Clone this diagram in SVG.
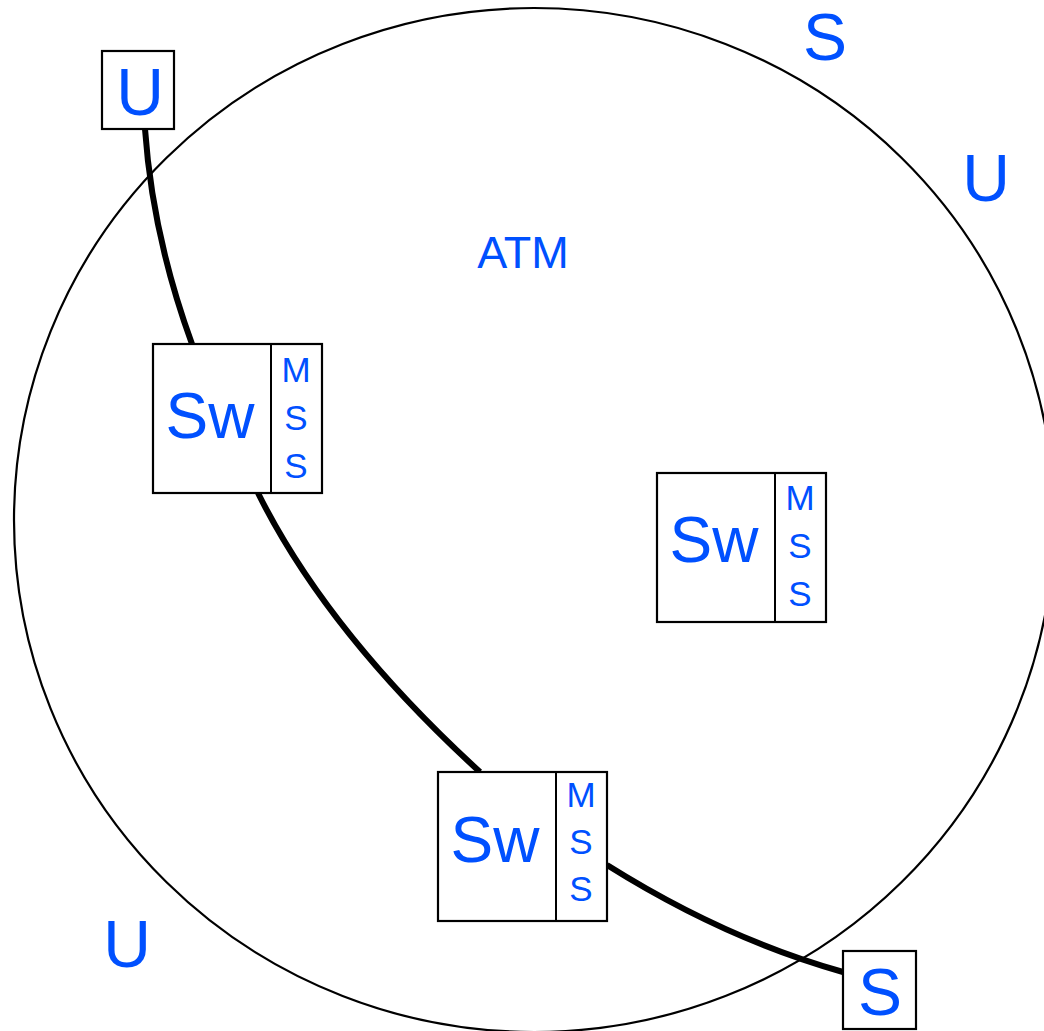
<svg xmlns="http://www.w3.org/2000/svg" width="1044" height="1031" viewBox="0 0 1044 1031">
  <style>
    .box { fill: #ffffff; stroke: #000000; stroke-width: 2.2; }
    .div { stroke: #000000; stroke-width: 2; }
    .lbl { font-family: "Liberation Sans", Arial, sans-serif; fill: #0050ff; text-anchor: middle; }
    .big { font-size: 66px; }
    .sw { font-size: 64px; }
    .mss { font-size: 35px; }
    .atm { font-size: 45px; }
    .link { fill: none; stroke: #000000; stroke-width: 6; }
  </style>

  <rect width="1044" height="1031" fill="#ffffff"/>

  <!-- ATM network boundary -->
  <g id="atm-network">
    <ellipse cx="534" cy="520" rx="520" ry="512" fill="none" stroke="#000000" stroke-width="2.2"/>
    <text class="lbl atm" x="523" y="268">ATM</text>
  </g>

  <!-- connection path -->
  <g id="connectors">
    <path class="link" d="M145,129 C150,200 165,270 192,344"/>
    <path class="link" d="M258,493 Q327,632 480,772"/>
    <path class="link" d="M607,865 Q725,939 843,972"/>
  </g>

  <!-- end systems -->
  <g id="user-top">
    <rect class="box" x="102" y="51" width="72" height="78"/>
    <text class="lbl big" x="140" y="115">U</text>
  </g>
  <g id="server-top">
    <text class="lbl big" x="825" y="60">S</text>
  </g>
  <g id="user-right">
    <text class="lbl big" x="986" y="201">U</text>
  </g>
  <g id="user-bottom">
    <text class="lbl big" x="127" y="967">U</text>
  </g>
  <g id="server-bottom">
    <rect class="box" x="843" y="951" width="73" height="78"/>
    <text class="lbl big" x="880" y="1015">S</text>
  </g>

  <!-- switches with MSS -->
  <g id="switch-1">
    <rect class="box" x="153" y="344" width="169" height="149"/>
    <line class="div" x1="271" y1="344" x2="271" y2="493"/>
    <text class="lbl sw" x="210" y="438">Sw</text>
    <text class="lbl mss" x="296" y="382">M</text>
    <text class="lbl mss" x="296" y="430">S</text>
    <text class="lbl mss" x="296" y="478">S</text>
  </g>
  <g id="switch-2">
    <rect class="box" x="657" y="473" width="169" height="149"/>
    <line class="div" x1="775" y1="473" x2="775" y2="622"/>
    <text class="lbl sw" x="714" y="562">Sw</text>
    <text class="lbl mss" x="800" y="510">M</text>
    <text class="lbl mss" x="800" y="558">S</text>
    <text class="lbl mss" x="800" y="606">S</text>
  </g>
  <g id="switch-3">
    <rect class="box" x="438" y="772" width="169" height="149"/>
    <line class="div" x1="556" y1="772" x2="556" y2="921"/>
    <text class="lbl sw" x="495" y="862">Sw</text>
    <text class="lbl mss" x="581" y="807">M</text>
    <text class="lbl mss" x="581" y="854">S</text>
    <text class="lbl mss" x="581" y="901">S</text>
  </g>
</svg>
